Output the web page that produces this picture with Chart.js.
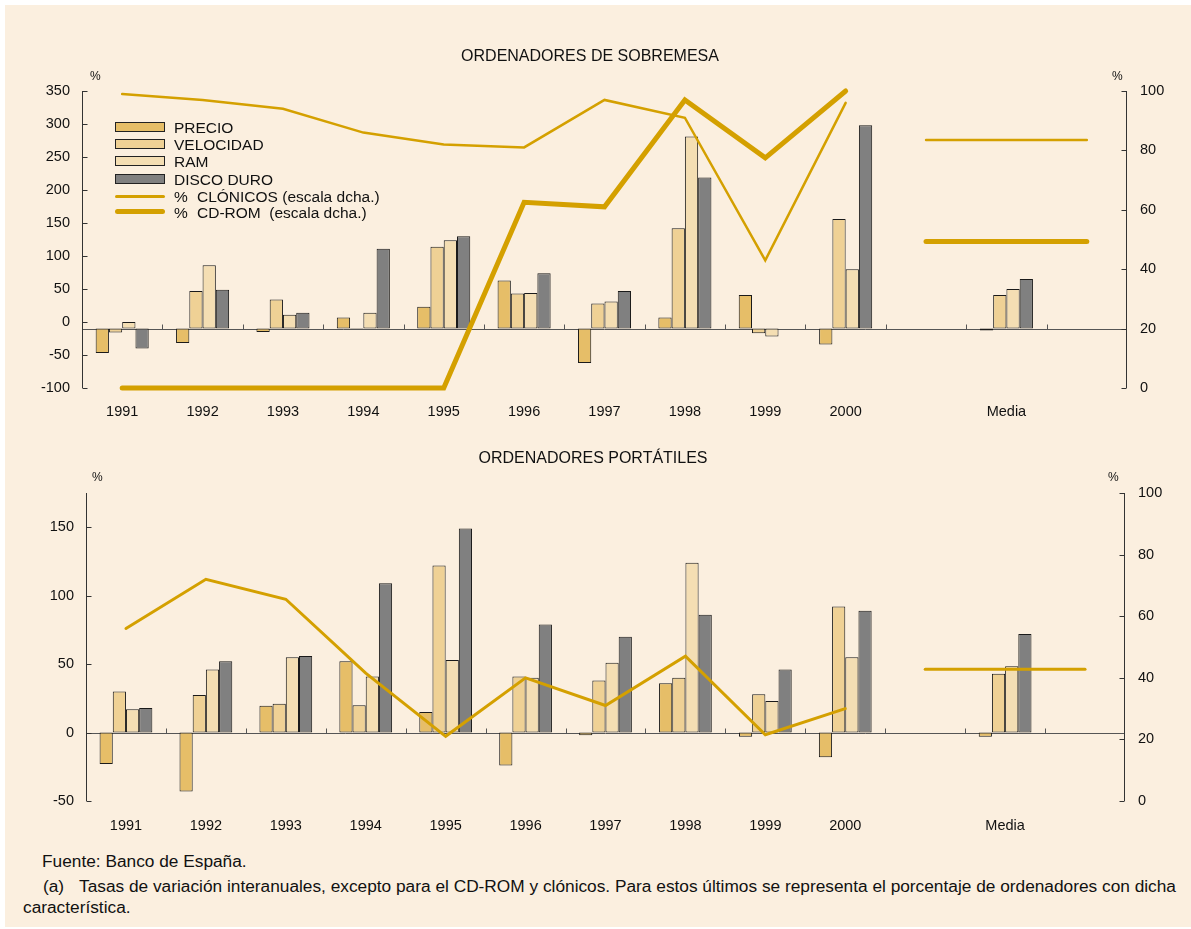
<!DOCTYPE html>
<html>
<head>
<meta charset="utf-8">
<script src="https://cdn.jsdelivr.net/npm/chart.js@4.4.1/dist/chart.umd.min.js"></script>
<style>
  body { margin: 0; background: #fff; font-family: "Liberation Sans", Arial, sans-serif; color: #111; }
  #page { position: relative; width: 1191px; height: 929px; overflow: hidden; }
  #panel { position: absolute; left: 5px; top: 5px; width: 1186px; height: 922px; background: #fbefdf; }
  .box { position: absolute; left: 0; }
  .t { position: absolute; white-space: nowrap; line-height: 1; }
  .title { font-size: 16px; width: 1180px; left: 0; text-align: center; }
  .pct { font-size: 12px; }
  .leg { font-size: 15.5px; }
  .sw { position: absolute; left: 115px; width: 48px; height: 8px; border: 1px solid #222; }
  .ln { position: absolute; left: 115px; width: 50px; background: #d4a000; border-radius: 3px; }
  .foot { font-size: 17.3px; }
</style>
</head>
<body>
<div id="page">
  <div id="panel"></div>

  <div class="box" style="top:0;width:1191px;height:425px"><canvas id="sobremesa" width="1191" height="425"></canvas></div>
  <div class="box" style="top:425px;width:1191px;height:420px"><canvas id="portatiles" width="1191" height="420"></canvas></div>

  <div class="t title" style="top:48px">ORDENADORES DE SOBREMESA</div>
  <div class="t title" style="top:450px;width:1186px">ORDENADORES PORTÁTILES</div>

  <div class="t pct" style="left:90px;top:70px">%</div>
  <div class="t pct" style="left:1112px;top:70px">%</div>
  <div class="t pct" style="left:92px;top:471px">%</div>
  <div class="t pct" style="left:1108px;top:471px">%</div>

  <!-- leyenda -->
  <div class="sw" style="top:122px;background:#e6be68"></div>
  <div class="sw" style="top:139px;background:#efd195"></div>
  <div class="sw" style="top:156px;background:#f4deb3"></div>
  <div class="sw" style="top:174px;background:#808080"></div>
  <div class="ln" style="top:195px;height:3px"></div>
  <div class="ln" style="top:209px;height:5px"></div>
  <div class="t leg" style="left:174px;top:120px">PRECIO</div>
  <div class="t leg" style="left:174px;top:137px">VELOCIDAD</div>
  <div class="t leg" style="left:174px;top:154px">RAM</div>
  <div class="t leg" style="left:174px;top:172px">DISCO DURO</div>
  <div class="t leg" style="left:174px;top:189px">%</div>
  <div class="t leg" style="left:197px;top:189px">CLÓNICOS (escala dcha.)</div>
  <div class="t leg" style="left:174px;top:205px">%</div>
  <div class="t leg" style="left:197px;top:205px">CD-ROM&nbsp;&nbsp;(escala dcha.)</div>

  <div class="t foot" style="left:42px;top:853px">Fuente: Banco de España.</div>
  <div class="t foot" style="left:43px;top:878px">(a)</div>
  <div class="t foot" style="left:79px;top:878px">Tasas de variación interanuales, excepto para el CD-ROM y clónicos. Para estos últimos se representa el porcentaje de ordenadores con dicha</div>
  <div class="t foot" style="left:23px;top:899px">característica.</div>
</div>

<script>
const categorias = ['1991', '1992', '1993', '1994', '1995', '1996', '1997', '1998', '1999', '2000', '', 'Media', ''];

// ordenadores de sobremesa (escala izda., tasas de variación)
const precioSob = [-47, -32, -15, 7, 23, 63, -62, 7, 41, -34, null, -13, null];
const velocidadSob = [-16, 47, 34, -9, 114, 43, 28, 142, -17, 156, null, 41, null];
const ramSob = [0, 86, 11, 14, 124, 44, 31, 281, -22, 80, null, 50, null];
const discoSob = [-40, 49, 14, 111, 130, 74, 47, 219, null, 298, null, 65, null];
// escala dcha. (%)
const clonicosSob = [99, 97, 94, 86, 82, 81, 97, 91, 43, 96];
const cdromSob = [0, 0, 0, 0, 0, 62.5, 61, 97, 77.5, 100];
const clonicosSobMedia = 83.5;
const cdromSobMedia = 49.3;

// ordenadores portátiles
const precioPort = [-23, -43, 19.5, 52, 15, -24, -2, 36, -3, -18, null, -3, null];
const velocidadPort = [30, 27.5, 21, 20, 122, 41, 38, 40, 28, 92, null, 43, null];
const ramPort = [17, 46, 55, 41, 53, 40, 51, 124, 23, 55, null, 48.5, null];
const discoPort = [18, 52, 56, 109, 149, 79, 70, 86, 46, 89, null, 72, null];
const clonicosPort = [56, 72, 65.5, 41.5, 21, 40, 31, 47, 21.5, 30];
const clonicosPortMedia = 42.8;

const COLORES = { precio: '#e6be68', velocidad: '#efd195', ram: '#f4deb3', disco: '#808080', linea: '#d4a000' };
const FUENTE = { family: '"Liberation Sans", Arial, sans-serif', size: 14.5 };

// series de años con huecos para las columnas vacía / Media
const anios = (arr) => arr.concat([null, null, null]);
const media = (v) => Array(10).fill(null).concat([v, v, v]);

const ejes = {
    id: 'ejes',
    beforeDatasetsDraw(chart, args, opts) {
        const { ctx, chartArea: a, scales } = chart;
        const yb = Math.round(scales.y.getPixelForValue(opts.base)) + 0.5;
        ctx.save();
        ctx.strokeStyle = '#555';
        ctx.lineWidth = 1;
        ctx.beginPath();
        ctx.moveTo(a.left, yb);
        ctx.lineTo(a.right, yb);
        const n = scales.x.ticks.length;
        for (let i = 1; i < n; i++) {
            const px = Math.round((scales.x.getPixelForTick(i - 1) + scales.x.getPixelForTick(i)) / 2) + 0.5;
            ctx.moveTo(px, yb);
            ctx.lineTo(px, yb - 5);
        }
        ctx.stroke();
        ctx.restore();
    },
    afterDatasetsDraw(chart) {
        const { ctx, chartArea: a, scales } = chart;
        ctx.save();
        ctx.strokeStyle = '#333';
        ctx.lineWidth = 1;
        ctx.beginPath();
        const xl = Math.round(a.left) + 0.5;
        const xr = Math.round(a.right) - 0.5;
        ctx.moveTo(xl, a.top);
        ctx.lineTo(xl, a.bottom);
        ctx.moveTo(xr, a.top);
        ctx.lineTo(xr, a.bottom);
        scales.y.ticks.forEach(t => {
            if (t.label === '') return;
            const py = Math.round(scales.y.getPixelForValue(t.value)) + 0.5;
            ctx.moveTo(xl, py);
            ctx.lineTo(xl + 5, py);
        });
        scales.y1.ticks.forEach(t => {
            const py = Math.round(scales.y1.getPixelForValue(t.value)) + 0.5;
            ctx.moveTo(xr - 5, py);
            ctx.lineTo(xr, py);
        });
        ctx.stroke();
        ctx.restore();
    }
};

const barra = (label, data, color, base) => ({
    type: 'bar', label, data, base,
    backgroundColor: color, borderColor: '#1a1a1a', borderWidth: 1, borderSkipped: false,
    categoryPercentage: 0.66, barPercentage: 1.0, yAxisID: 'y', order: 2
});

const linea = (label, data, ancho) => ({
    type: 'line', label, data, yAxisID: 'y1', order: 1,
    borderColor: COLORES.linea, borderWidth: ancho, pointRadius: 0,
    borderCapStyle: 'round', tension: 0, spanGaps: false, clip: false
});

function opciones(cfg) {
    const comun = { grid: { display: false, drawTicks: false }, border: { display: false } };
    return {
        responsive: false,
        animation: false,
        layout: { padding: { top: cfg.top, left: 0, right: 0, bottom: 0 } },
        plugins: { legend: { display: false }, tooltip: { enabled: false }, ejes: { base: cfg.base } },
        scales: {
            x: {
                ...comun,
                ticks: { font: FUENTE, color: '#111', padding: cfg.xpad, maxRotation: 0, autoSkip: false },
                afterFit: (s) => { s.height = cfg.xh; }
            },
            y: {
                ...comun, position: 'left', min: cfg.min, max: cfg.max,
                ticks: {
                    font: FUENTE, color: '#111', padding: 12, stepSize: cfg.step,
                    callback: (v) => (v % cfg.step === 0 ? String(v) : '')
                },
                afterFit: (s) => { s.width = cfg.lw; }
            },
            y1: {
                ...comun, position: 'right', min: 0, max: 100,
                ticks: { font: FUENTE, color: '#111', padding: 13, stepSize: 20 },
                afterFit: (s) => { s.width = cfg.rw; }
            }
        }
    };
}

new Chart(document.getElementById('sobremesa'), {
    type: 'bar',
    data: {
        labels: categorias,
        datasets: [
            barra('PRECIO', precioSob, COLORES.precio, -10),
            barra('VELOCIDAD', velocidadSob, COLORES.velocidad, -10),
            barra('RAM', ramSob, COLORES.ram, -10),
            barra('DISCO DURO', discoSob, COLORES.disco, -10),
            linea('% CLÓNICOS', anios(clonicosSob), 2.5),
            linea('% CD-ROM', anios(cdromSob), 5),
            linea('% CLÓNICOS media', media(clonicosSobMedia), 2.5),
            linea('% CD-ROM media', media(cdromSobMedia), 5)
        ]
    },
    options: opciones({ top: 91, xh: 37, xpad: 15, lw: 82, rw: 64, min: -100, max: 350, step: 50, base: -10 }),
    plugins: [ejes]
});

new Chart(document.getElementById('portatiles'), {
    type: 'bar',
    data: {
        labels: categorias,
        datasets: [
            barra('PRECIO', precioPort, COLORES.precio, 0),
            barra('VELOCIDAD', velocidadPort, COLORES.velocidad, 0),
            barra('RAM', ramPort, COLORES.ram, 0),
            barra('DISCO DURO', discoPort, COLORES.disco, 0),
            linea('% CLÓNICOS', anios(clonicosPort), 3),
            linea('% CLÓNICOS media', media(clonicosPortMedia), 3)
        ]
    },
    options: opciones({ top: 68, xh: 44, xpad: 16, lw: 86, rw: 66, min: -50, max: 175, step: 50, base: 0 }),
    plugins: [ejes]
});
</script>
</body>
</html>
